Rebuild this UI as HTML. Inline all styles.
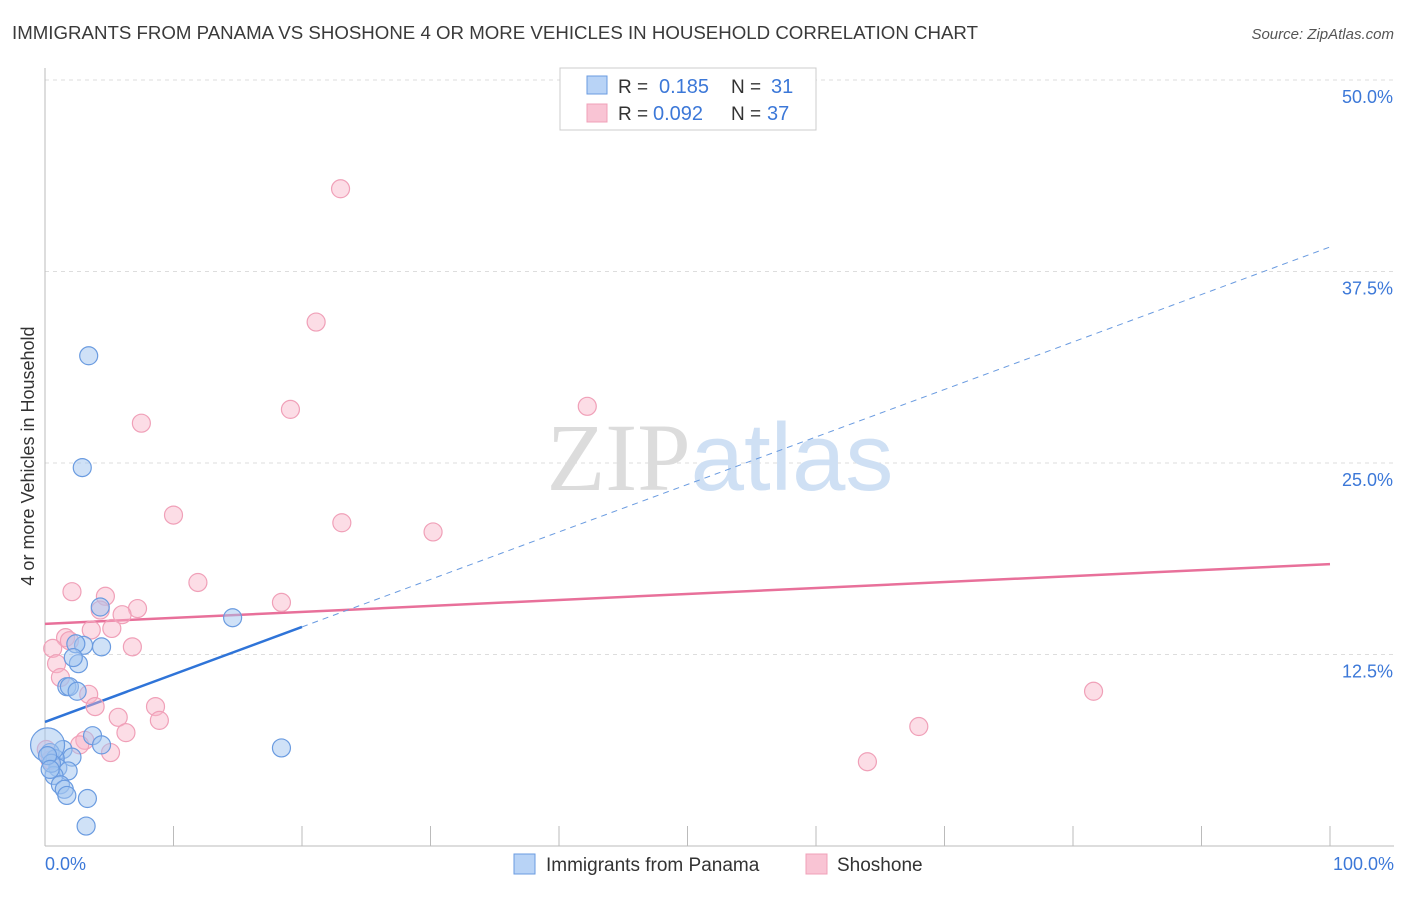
<!DOCTYPE html>
<html><head><meta charset="utf-8"><style>
body{margin:0;background:#fff;font-family:"Liberation Sans",sans-serif}
svg text{font-family:"Liberation Sans",sans-serif}
</style></head><body>
<svg id="chart" width="1406" height="892" viewBox="0 0 1406 892" xmlns="http://www.w3.org/2000/svg">
<text x="12" y="39" font-size="18" fill="#3a3a3a" textLength="966" lengthAdjust="spacingAndGlyphs">IMMIGRANTS FROM PANAMA VS SHOSHONE 4 OR MORE VEHICLES IN HOUSEHOLD CORRELATION CHART</text>
<text x="1394" y="39" font-size="15" fill="#555" text-anchor="end" font-style="italic">Source: ZipAtlas.com</text>
<g id="grid"></g>
<g id="axes"></g>
<text x="720" y="490" font-size="96" text-anchor="middle"><tspan fill="#dcdcdc" font-family="Liberation Serif">ZIP</tspan><tspan fill="#cfe0f4">atlas</tspan></text>
<g id="lines"></g>
<g id="points"></g>
<text transform="translate(34,456) rotate(-90)" font-size="18" fill="#333" text-anchor="middle">4 or more Vehicles in Household</text>
<g>
<rect x="560" y="68" width="256" height="62" fill="#fff" stroke="#ccc"/>
<rect x="587" y="76" width="20" height="18" fill="#b8d3f6" stroke="#6a9be0"/>
<rect x="587" y="104" width="20" height="18" fill="#f9c4d4" stroke="#f0a0b8"/>
<text x="618" y="93" font-size="19" fill="#333">R =</text>
<text x="659" y="93" font-size="20" fill="#3c78d8">0.185</text>
<text x="731" y="93" font-size="19" fill="#333">N =</text>
<text x="771" y="93" font-size="20" fill="#3c78d8">31</text>
<text x="618" y="120" font-size="19" fill="#333">R =</text>
<text x="653" y="120" font-size="20" fill="#3c78d8">0.092</text>
<text x="731" y="120" font-size="19" fill="#333">N =</text>
<text x="767" y="120" font-size="20" fill="#3c78d8">37</text>
</g>
<g>
<rect x="514" y="854" width="21" height="20" fill="#b8d3f6" stroke="#6a9be0"/>
<text x="546" y="871" font-size="19" fill="#333">Immigrants from Panama</text>
<rect x="806" y="854" width="21" height="20" fill="#f9c4d4" stroke="#f0a0b8"/>
<text x="837" y="871" font-size="19" fill="#333">Shoshone</text>
</g>
</svg>
<script>
const yTicks=[12.5,25,37.5,50];
const yTickLabels=["12.5%","25.0%","37.5%","50.0%"];
const xTicks=[0,10,20,30,40,50,60,70,80,90,100];
const blueX=[3.4,2.9,14.6,4.3,3.0,4.4,2.4,2.6,2.2,1.7,1.9,2.5,3.7,4.4,18.4,1.4,2.1,0.4,0.8,1.0,1.8,0.7,1.2,1.5,1.7,3.3,3.2,0.2,0.5,0.2,0.4];
const blueY=[32.0,24.7,14.9,15.6,13.1,13.0,13.2,11.9,12.3,10.4,10.4,10.1,7.2,6.6,6.4,6.3,5.8,6.1,5.7,5.1,4.9,4.6,4.0,3.7,3.3,3.1,1.3,6.6,5.4,5.9,5.0];
const pinkX=[23.0,21.1,19.1,7.5,42.2,10.0,23.1,30.2,11.9,2.1,4.7,18.4,7.2,6.0,4.3,5.2,3.6,1.6,1.9,6.8,0.6,0.9,1.2,3.4,3.9,8.6,5.7,8.9,6.3,3.1,2.7,5.1,81.6,68.0,64.0,0.4,0.1];
const pinkY=[42.9,34.2,28.5,27.6,28.7,21.6,21.1,20.5,17.2,16.6,16.3,15.9,15.5,15.1,15.4,14.2,14.1,13.6,13.4,13.0,12.9,11.9,11.0,9.9,9.1,9.1,8.4,8.2,7.4,6.9,6.6,6.1,10.1,7.8,5.5,5.6,6.3];
const blueTrend=[8.1,0.31];
const pinkTrend=[14.5,0.039];
const NS="http://www.w3.org/2000/svg";
const X=v=>45+v*12.85, Y=v=>846-v*15.32;
function mk(p,t,a){const e=document.createElementNS(NS,t);for(const k in a)e.setAttribute(k,a[k]);document.getElementById(p).appendChild(e);return e;}
yTicks.forEach((t,i)=>{
 const g=mk('grid','line',{x1:45,x2:1394,y1:Y(t),y2:Y(t),stroke:'#ddd','stroke-dasharray':'4,4'});
 
 
 const l=mk('grid','text',{x:1393,y:Y(t)+23,'font-size':18,fill:'#3c78d8','text-anchor':'end'});
 
 
 l.textContent=yTickLabels[i];
});
const ax=mk('axes','line',{x1:45,x2:45,y1:68,y2:846,stroke:'#bbb'});


const bx=mk('axes','line',{x1:45,x2:1394,y1:846,y2:846,stroke:'#bbb'});


xTicks.forEach(t=>{const e=mk('axes','line',{x1:X(t),x2:X(t),y1:826,y2:846,stroke:'#bbb'});
 
 });
[[0,"0.0%",'start',45],[100,"100.0%",'end',1394]].forEach(d=>{const e=mk('axes','text',{x:d[3],y:870,'font-size':18,fill:'#3c78d8','text-anchor':d[2]});
 
 
 e.textContent=d[1];});
const pl=mk('lines','line',{x1:X(0),y1:Y(pinkTrend[0]),x2:X(100),y2:Y(pinkTrend[0]+pinkTrend[1]*100),stroke:'#e8709a','stroke-width':2.5});


const bl=mk('lines','line',{x1:X(0),y1:Y(blueTrend[0]),x2:X(20),y2:Y(blueTrend[0]+blueTrend[1]*20),stroke:'#2f74d8','stroke-width':2.5});


const bd=mk('lines','line',{x1:X(20),y1:Y(blueTrend[0]+blueTrend[1]*20),x2:X(100),y2:Y(blueTrend[0]+blueTrend[1]*100),stroke:'#6a9be0','stroke-width':1,'stroke-dasharray':'6,5'});


pinkX.forEach((x,i)=>{const c=mk('points','circle',{cx:X(x),cy:Y(pinkY[i]),r:9,fill:'rgba(248,180,200,0.45)',stroke:'#f0a0b8','stroke-width':1.2});
 
 });
blueX.forEach((x,i)=>{const c=mk('points','circle',{cx:X(x),cy:Y(blueY[i]),r:i==27?17:9,fill:'rgba(160,196,240,0.5)',stroke:'#6a9be0','stroke-width':1.2});
 
 });
</script>
</body></html>
